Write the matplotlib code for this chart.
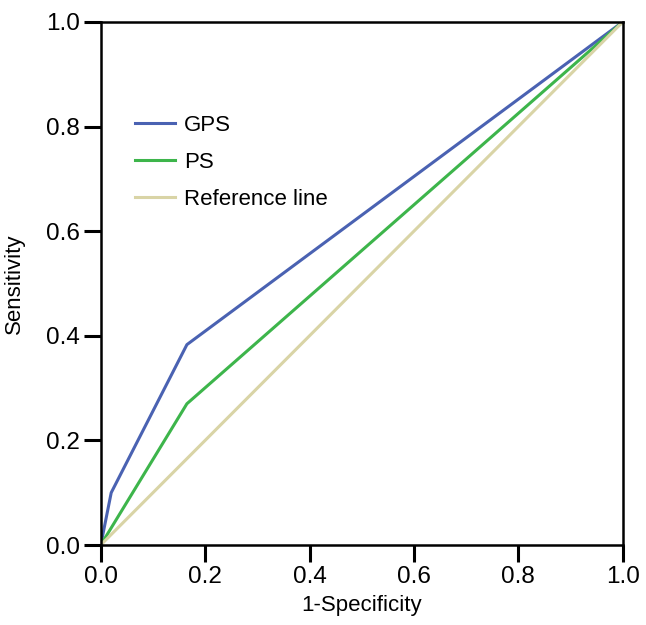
import matplotlib
matplotlib.use("Agg")
import matplotlib.pyplot as plt

# ROC curve points
gps_fpr = [0.0, 0.02, 0.165, 1.0]
gps_tpr = [0.0, 0.10, 0.383, 1.0]
ps_fpr = [0.0, 0.165, 1.0]
ps_tpr = [0.0, 0.27, 1.0]
ref_x = [0.0, 1.0]
ref_y = [0.0, 1.0]
ticks = [0.0, 0.2, 0.4, 0.6, 0.8, 1.0]

plt.rcParams['font.family'] = ['Liberation Sans', 'DejaVu Sans']

fig = plt.figure(figsize=(6.46, 6.25), dpi=100)
ax = fig.add_axes([0.156, 0.128, 0.808, 0.837])

ax.plot(gps_fpr, gps_tpr, color="#4a62b2", lw=2.2, label="GPS")
ax.plot(ps_fpr, ps_tpr, color="#3db54b", lw=2.2, label="PS")
ax.plot(ref_x, ref_y, color="#d9d4a6", lw=2.2, label="Reference line")

ax.set_xlim(0, 1)
ax.set_ylim(0, 1)
ax.set_xticks(ticks)
ax.set_yticks(ticks)
ax.set_xticklabels([f"{t:.1f}" for t in ticks])
ax.set_yticklabels([f"{t:.1f}" for t in ticks])
ax.tick_params(direction="out", length=12, width=2.2, labelsize=17.5, pad=3)
for sp in ax.spines.values():
    sp.set_linewidth(1.8)

ax.set_xlabel("1-Specificity", fontsize=16, labelpad=5)
ax.set_ylabel("Sensitivity", fontsize=16, labelpad=15)

ax.legend(loc="upper left", bbox_to_anchor=(0.027, 0.86), frameon=False,
          fontsize=16, handlelength=1.8, handletextpad=0.4, labelspacing=0.72)

fig.savefig("out.png", dpi=100)
